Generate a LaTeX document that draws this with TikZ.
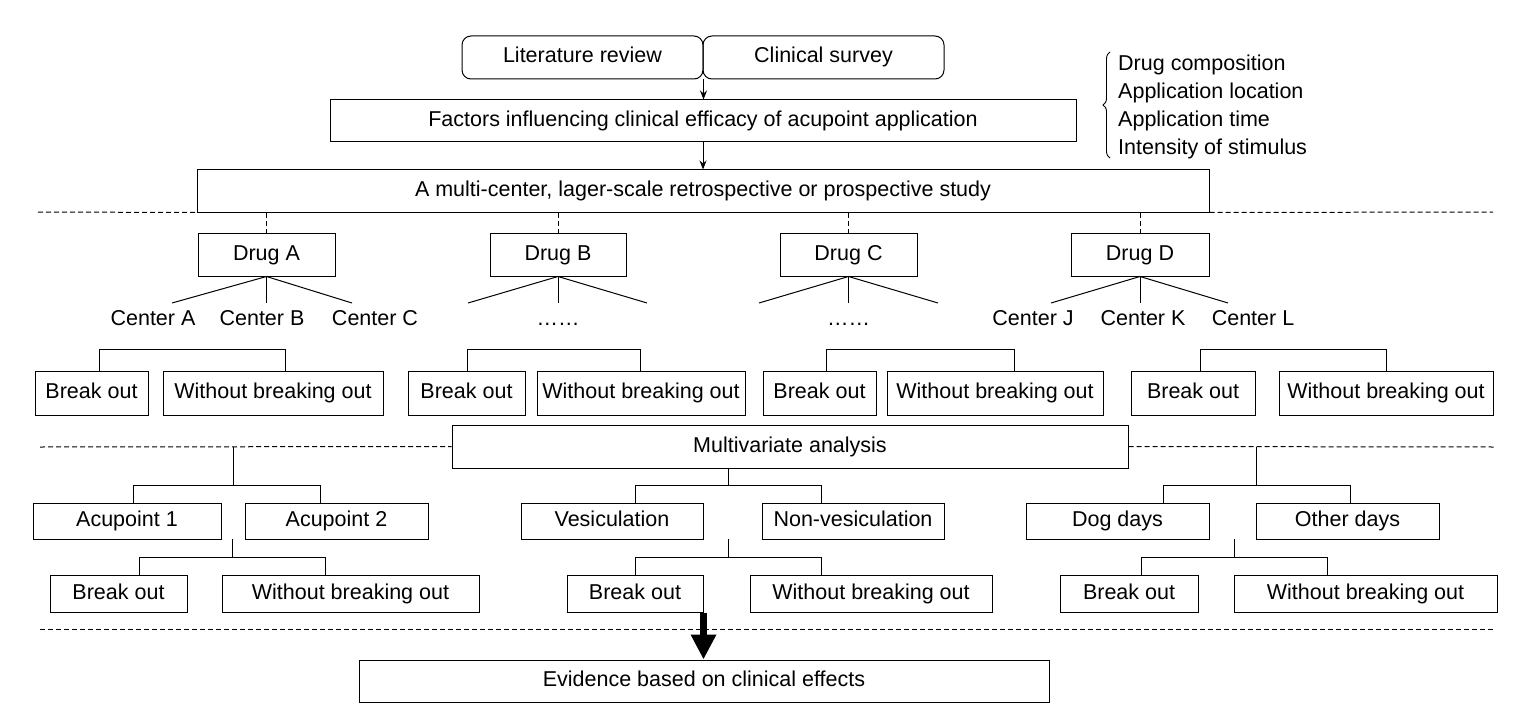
\documentclass[tikz,border=0pt]{standalone}
\usepackage{fontspec}
\setmainfont{Liberation Sans}
\usetikzlibrary{arrows.meta,decorations.pathreplacing}
\newcommand\fs{\fontsize{21.5}{26}\selectfont}
\begin{document}
\begin{tikzpicture}[x=1pt,y=-1pt,
  box/.style={draw, line width=1pt, inner sep=0pt, font=\fs, text height=15.5pt, text depth=4.5pt},
  rbox/.style={box, rounded corners=9pt},
  lbl/.style={inner sep=0pt, font=\fs, text height=15.5pt, text depth=4.5pt},
  conn/.style={line width=1pt},
  dline/.style={line width=1pt, dash pattern=on 5pt off 3pt},
  arr/.style={line width=1pt, -{Stealth[length=9pt,width=7pt]}},
  bigarr/.style={line width=7pt, -{Triangle[width=24pt,length=25pt]}}]
\useasboundingbox (0,0) rectangle (1538,714);

% top
\node[rbox, minimum width=241pt, minimum height=43pt] (lit) at (582.5,57.5) {Literature review};
\node[rbox, minimum width=241pt, minimum height=43pt] (cli) at (823.5,57.5) {Clinical survey};
\node[box, minimum width=746pt, minimum height=42pt] (fac) at (703,121) {Factors influencing clinical efficacy of acupoint application};
\node[box, minimum width=1012pt, minimum height=42pt] (mul) at (703,191) {A multi-center, lager-scale retrospective or prospective study};
\draw[arr] (lit.south east) -- (lit.south east |- fac.north);
\draw[arr] (fac.south) -- (mul.north);

% right list
\node[lbl, anchor=west] (r1) at (1118,65) {Drug composition};
\node[lbl, anchor=west] (r2) at (1118,93) {Application location};
\node[lbl, anchor=west] (r3) at (1118,121) {Application time};
\node[lbl, anchor=west] (r4) at (1118,149) {Intensity of stimulus};
\coordinate (br1) at (1110,158);
\coordinate (br2) at (1110,52);
\draw[conn, line width=0.9pt, decorate, decoration={brace, amplitude=7pt}] (br1) -- (br2);

% dashed separators
\coordinate (d1a) at (38,212);
\coordinate (d1b) at (1493,212);
\draw[dline] (d1a) -- (mul.south west);
\draw[dline] (mul.south east) -- (d1b);

% drugs
\node[box, minimum width=137pt, minimum height=43pt] (dA) at (266.5,254.5) {Drug A};
\node[box, minimum width=136pt, minimum height=43pt] (dB) at (558,254.5) {Drug B};
\node[box, minimum width=137pt, minimum height=43pt] (dC) at (848.5,254.5) {Drug C};
\node[box, minimum width=138pt, minimum height=43pt] (dD) at (1140,254.5) {Drug D};
\foreach \d in {dA,dB,dC,dD}{
  \draw[dline] (\d.north |- mul.south) -- (\d.north);
}

% fan lines
\coordinate (aL) at (172,303); \coordinate (aM) at (266.5,303); \coordinate (aR) at (352,303);
\coordinate (bL) at (468,303); \coordinate (bM) at (558,303); \coordinate (bR) at (647,303);
\coordinate (cL) at (759,303); \coordinate (cM) at (848.5,303); \coordinate (cR) at (938,303);
\coordinate (eL) at (1051,303); \coordinate (eM) at (1140,303); \coordinate (eR) at (1228,303);
\draw[conn] (aL) -- (dA.south) -- (aR); \draw[conn] (dA.south) -- (aM);
\draw[conn] (bL) -- (dB.south) -- (bR); \draw[conn] (dB.south) -- (bM);
\draw[conn] (cL) -- (dC.south) -- (cR); \draw[conn] (dC.south) -- (cM);
\draw[conn] (eL) -- (dD.south) -- (eR); \draw[conn] (dD.south) -- (eM);

\node[lbl] (cA) at (153,320) {Center A};
\node[lbl] (cB) at (262,320) {Center B};
\node[lbl] (cC) at (375,320) {Center C};
\node[lbl] (dotsB) at (558,320) {……};
\node[lbl] (dotsC) at (848.5,320) {……};
\node[lbl] (cJ) at (1033,320) {Center J};
\node[lbl] (cK) at (1143,320) {Center K};
\node[lbl] (cL2) at (1253,320) {Center L};

% break out row 1
\node[box, minimum width=113pt, minimum height=44pt] (boA) at (91.5,393) {Break out};
\node[box, minimum width=220pt, minimum height=44pt] (woA) at (273,393) {Without breaking out};
\node[box, minimum width=117pt, minimum height=44pt] (boB) at (466.5,393) {Break out};
\node[box, minimum width=208pt, minimum height=44pt] (woB) at (641,393) {Without breaking out};
\node[box, minimum width=113pt, minimum height=44pt] (boC) at (819.5,393) {Break out};
\node[box, minimum width=216pt, minimum height=44pt] (woC) at (995,393) {Without breaking out};
\node[box, minimum width=124pt, minimum height=44pt] (boD) at (1193,393) {Break out};
\node[box, minimum width=214pt, minimum height=44pt] (woD) at (1386,393) {Without breaking out};
\coordinate (kA1) at (99,349);  \coordinate (kA2) at (285,349);
\coordinate (kB1) at (467,349); \coordinate (kB2) at (640,349);
\coordinate (kC1) at (826,349); \coordinate (kC2) at (1014,349);
\coordinate (kD1) at (1200,349); \coordinate (kD2) at (1386,349);
\draw[conn] (kA1 |- boA.north) -- (kA1) -- (kA2) -- (kA2 |- woA.north);
\draw[conn] (kB1 |- boB.north) -- (kB1) -- (kB2) -- (kB2 |- woB.north);
\draw[conn] (kC1 |- boC.north) -- (kC1) -- (kC2) -- (kC2 |- woC.north);
\draw[conn] (kD1 |- boD.north) -- (kD1) -- (kD2) -- (kD2 |- woD.north);

% multivariate
\node[box, minimum width=676pt, minimum height=43pt] (mv) at (790,446.5) {Multivariate analysis};
\coordinate (d2a) at (40,447);
\coordinate (d2b) at (1494,447);
\draw[dline] (d2a) -- (mv.west);
\draw[dline] (mv.east) -- (d2b);

% row 3
\node[box, minimum width=188pt, minimum height=36pt] (ac1) at (127,521) {Acupoint 1};
\node[box, minimum width=183pt, minimum height=36pt] (ac2) at (336.5,521) {Acupoint 2};
\node[box, minimum width=182pt, minimum height=36pt] (ves) at (612,521) {Vesiculation};
\node[box, minimum width=182pt, minimum height=36pt] (nves) at (853,521) {Non-vesiculation};
\node[box, minimum width=183pt, minimum height=36pt] (dog) at (1117.5,521) {Dog days};
\node[box, minimum width=183pt, minimum height=36pt] (oth) at (1347.5,521) {Other days};

% row 4
\node[box, minimum width=137pt, minimum height=37pt] (bo1) at (118.5,593.5) {Break out};
\node[box, minimum width=257pt, minimum height=37pt] (wo1) at (350.5,593.5) {Without breaking out};
\node[box, minimum width=136pt, minimum height=37pt] (bo2) at (635,593.5) {Break out};
\node[box, minimum width=242pt, minimum height=37pt] (wo2) at (871,593.5) {Without breaking out};
\node[box, minimum width=138pt, minimum height=37pt] (bo3) at (1129,593.5) {Break out};
\node[box, minimum width=263pt, minimum height=37pt] (wo3) at (1365.5,593.5) {Without breaking out};

% left branch
\coordinate (L0) at (233,447); \coordinate (L1) at (233,485);
\coordinate (Lh1) at (133,485); \coordinate (Lh2) at (320,485);
\draw[conn] (L0) -- (L1);
\draw[conn] (Lh1 |- ac1.north) -- (Lh1) -- (Lh2) -- (Lh2 |- ac2.north);
\coordinate (L2) at (232,539); \coordinate (L3) at (232,557);
\coordinate (Lb1) at (139,557); \coordinate (Lb2) at (325,557);
\draw[conn] (L2) -- (L3);
\draw[conn] (Lb1 |- bo1.north) -- (Lb1) -- (Lb2) -- (Lb2 |- wo1.north);

% middle branch
\coordinate (M1) at (728,485);
\coordinate (Mh1) at (635,485); \coordinate (Mh2) at (821,485);
\draw[conn] (M1 |- mv.south) -- (M1);
\draw[conn] (Mh1 |- ves.north) -- (Mh1) -- (Mh2) -- (Mh2 |- nves.north);
\coordinate (M2) at (728,539); \coordinate (M3) at (728,557);
\coordinate (Mb1) at (635,557); \coordinate (Mb2) at (821,557);
\draw[conn] (M2) -- (M3);
\draw[conn] (Mb1 |- bo2.north) -- (Mb1) -- (Mb2) -- (Mb2 |- wo2.north);

% right branch
\coordinate (R0) at (1256,447); \coordinate (R1) at (1256,485);
\coordinate (Rh1) at (1163,485); \coordinate (Rh2) at (1350,485);
\draw[conn] (R0) -- (R1);
\draw[conn] (Rh1 |- dog.north) -- (Rh1) -- (Rh2) -- (Rh2 |- oth.north);
\coordinate (R2) at (1234,539); \coordinate (R3) at (1234,557);
\coordinate (Rb1) at (1141,557); \coordinate (Rb2) at (1327,557);
\draw[conn] (R2) -- (R3);
\draw[conn] (Rb1 |- bo3.north) -- (Rb1) -- (Rb2) -- (Rb2 |- wo3.north);

% bottom
\coordinate (d3a) at (40,629);
\coordinate (d3b) at (1494,629);
\draw[dline] (d3a) -- (d3b);
\node[box, minimum width=690pt, minimum height=42pt] (ev) at (704,681) {Evidence based on clinical effects};
\draw[bigarr] (bo2.south east) -- (bo2.south east |- ev.north);
\end{tikzpicture}
\end{document}
